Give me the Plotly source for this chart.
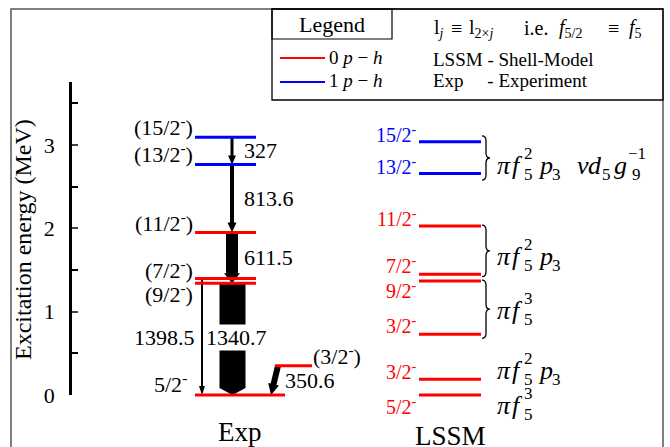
import plotly.graph_objects as go
import math

# ---------------- data ----------------
exp_labels = ["5/2<sup>-</sup>", "(3/2<sup>-</sup>)", "(9/2<sup>-</sup>)", "(7/2<sup>-</sup>)",
              "(11/2<sup>-</sup>)", "(13/2<sup>-</sup>)", "(15/2<sup>-</sup>)"]
exp_energy_keV = [0.0, 350.6, 1340.7, 1398.5, 1952.2, 2765.8, 3092.8]
exp_ph = [0, 0, 0, 0, 0, 1, 1]

gamma_keV = [327, 813.6, 611.5, 1340.7, 1398.5, 350.6]
gamma_labels = ["327", "813.6", "611.5", "1340.7", "1398.5", "350.6"]
gamma_from = [6, 5, 4, 2, 3, 1]
gamma_to = [5, 4, 2, 0, 0, 0]

lssm_labels = ["5/2<sup>-</sup>", "3/2<sup>-</sup>", "3/2<sup>-</sup>", "9/2<sup>-</sup>",
               "7/2<sup>-</sup>", "11/2<sup>-</sup>", "13/2<sup>-</sup>", "15/2<sup>-</sup>"]
lssm_energy_MeV = [0.0, 0.19, 0.73, 1.37, 1.45, 2.03, 2.66, 3.04]
lssm_ph = [0, 0, 0, 0, 0, 0, 1, 1]

# configurations: tokens (text, kind) with kind m=main, sup, sub
cfg_f2p = [("π", "m"), ("f", "m"), ("2", "sup"), ("5", "sub"), ("p", "m"), ("3", "sub")]
cfg_f3 = [("π", "m"), ("f", "m"), ("3", "sup"), ("5", "sub")]
cfg_f2p_nu = cfg_f2p + [("ν", "m"), ("d", "m"), ("5", "sub"), ("g", "m"), ("−1", "sup"), ("9", "sub")]
configs = [cfg_f2p_nu, cfg_f2p, cfg_f3, cfg_f2p, cfg_f3]

notation_tokens = ["l<sub><i>j</i></sub>", "≡", "l<sub>2×<i>j</i></sub>", "i.e.",
                   "<i>f</i><sub>5/2</sub>", "≡", "<i>f</i><sub>5</sub>"]

y_ticks = [0, 1, 2, 3]

# ---------------- layout geometry ----------------
W, H = 670, 447
SCALE = 83.3      # px per MeV
Y0 = 395          # pixel row of 0 MeV
AX_TOP = 82
FONT = "Liberation Serif"
ph_color = ["#ff0000", "#0000ff"]

def pxy(py):
    """pixel row -> MeV (data coords of main y axis)"""
    return (Y0 - py) / SCALE

def pap(py):
    return 1 - py / H

exp_E = [e / 1000 for e in exp_energy_keV]

fig = go.Figure()
fig.add_trace(go.Scatter(x=[0], y=[0], mode="markers", marker=dict(opacity=0), showlegend=False,
                         hoverinfo="skip", xaxis="x", yaxis="y"))
fig.add_trace(go.Scatter(x=[0], y=[0], mode="markers", marker=dict(opacity=0), showlegend=False,
                         hoverinfo="skip", xaxis="x", yaxis="y2"))

shapes = []
ann = []

def ptext(x, py, text, size, anchor="left", **kw):
    ann.append(dict(x=x, y=pap(py), xref="x", yref="paper", text=text, showarrow=False,
                    xanchor=anchor, yanchor="middle",
                    font=dict(size=size, family=FONT, color=kw.pop("color", "black")), **kw))

# outer frame
shapes.append(dict(type="path", xref="x", yref="paper",
                   path=f"M 11,{pap(460)} L 11,{pap(9)} L 663,{pap(9)} L 663,{pap(460)}",
                   line=dict(color="#555555", width=1.5)))
# legend box
shapes.append(dict(type="rect", xref="x", yref="paper", x0=272, x1=663, y0=pap(100), y1=pap(9),
                   line=dict(color="black", width=1.3)))
shapes.append(dict(type="rect", xref="x", yref="paper", x0=272, x1=392, y0=pap(39), y1=pap(9),
                   line=dict(color="black", width=1.2)))
ptext(332, 24, "Legend", 22, anchor="center")
for i, (py, lab) in enumerate([(58, "0 <i>p</i> − <i>h</i>"), (82, "1 <i>p</i> − <i>h</i>")]):
    shapes.append(dict(type="line", xref="x", yref="paper", x0=280, x1=325, y0=pap(py), y1=pap(py),
                       line=dict(color=ph_color[i], width=2)))
    ptext(327, py - 1, lab, 19)
notation_x = [432, 449, 467, 522, 557, 606, 627]
for tx, tok in zip(notation_x, notation_tokens):
    ptext(tx, 28, tok, 20)
ptext(431, 59, "LSSM - Shell-Model", 19)
ptext(431, 81, "Exp\u00a0\u00a0\u00a0\u00a0 - Experiment", 19)

# y-axis title
ann.append(dict(x=23, y=pap(240), xref="x", yref="paper", text="Excitation energy (MeV)",
                textangle=-90, showarrow=False, xanchor="center", yanchor="middle",
                font=dict(size=24, family=FONT, color="black")))

# ---------------- Exp levels ----------------
exp_x = {i: (195, 256) for i in range(len(exp_E))}
exp_x[0] = (195, 285)
exp_x[1] = (275, 312)
for i, e in enumerate(exp_E):
    x0, x1 = exp_x[i]
    shapes.append(dict(type="line", xref="x", yref="y", x0=x0, x1=x1, y0=e, y1=e,
                       line=dict(color=ph_color[exp_ph[i]], width=3)))

exp_lab_dy = [12, 11, -10, 10, 10, 12, 11]      # px above level (neg = below)
for i, e in enumerate(exp_E):
    if i == 1:
        xr, anc = 311, "left"
    else:
        xr, anc = (189 if i == 0 else 195), "right"
    ann.append(dict(x=xr, y=e + exp_lab_dy[i] / SCALE, xref="x", yref="y", text=exp_labels[i],
                    showarrow=False, xanchor=anc, yanchor="middle",
                    font=dict(size=22, family=FONT, color="black")))

# gamma arrows (x_top, x_bottom, shaft width, head width, head length) in px
g_geom = [(232, 232, 3, 8, 9),
          (232, 232, 4, 9, 10),
          (232, 232, 12, 16, 10),
          (232.5, 232.5, 26, 26, 7),
          (202, 202, 2, 6, 9),
          (278, 271, 6, 11, 11)]

for k in range(len(gamma_keV)):
    yt = exp_E[gamma_from[k]]
    yb = exp_E[gamma_to[k]]
    xt, xb, sw, hw, hl = g_geom[k]
    pt = (xt, Y0 - yt * SCALE)
    pb = (xb, Y0 - yb * SCALE)
    dx, dy = pb[0] - pt[0], pb[1] - pt[1]
    L = math.hypot(dx, dy)
    ux, uy = dx / L, dy / L
    nx, ny = -uy, ux
    hx, hy = pb[0] - ux * hl, pb[1] - uy * hl
    pts = [(pt[0] + nx * sw / 2, pt[1] + ny * sw / 2),
           (hx + nx * sw / 2, hy + ny * sw / 2),
           (hx + nx * hw / 2, hy + ny * hw / 2),
           pb,
           (hx - nx * hw / 2, hy - ny * hw / 2),
           (hx - nx * sw / 2, hy - ny * sw / 2),
           (pt[0] - nx * sw / 2, pt[1] - ny * sw / 2)]
    path = "M " + " L ".join(f"{x:.2f},{pxy(y):.5f}" for x, y in pts) + " Z"
    shapes.append(dict(type="path", xref="x", yref="y", path=path, layer="below",
                       fillcolor="black", line=dict(color="black", width=0)))

g_lab = [(242, 150, "left"), (242, 198, "left"), (242, 257, "left"),
         (205, 337, "left"), (197, 337, "right"), (283, 380, "left")]
for k, (gx, gy, anc) in enumerate(g_lab):
    extra = {}
    if gamma_labels[k] == "1340.7":
        extra = dict(bgcolor="white", borderpad=0)
    ann.append(dict(x=gx, y=pxy(gy), xref="x", yref="y", text=gamma_labels[k], showarrow=False,
                    xanchor=anc, yanchor="middle",
                    font=dict(size=22, family=FONT, color="black"), **extra))

# ---------------- LSSM levels ----------------
lssm_lab_dy = [-11, 8, 9, -9, 9, 8, 7, 8]
for i, e in enumerate(lssm_energy_MeV):
    shapes.append(dict(type="line", xref="x", yref="y", x0=419, x1=481, y0=e, y1=e,
                       line=dict(color=ph_color[lssm_ph[i]], width=3)))
    ann.append(dict(x=419, y=e + lssm_lab_dy[i] / SCALE, xref="x", yref="y", text=lssm_labels[i],
                    showarrow=False, xanchor="right", yanchor="middle",
                    font=dict(size=20, family=FONT, color=ph_color[lssm_ph[i]])))

def brace(x, t_px, b_px, w=8):
    m = (t_px + b_px) / 2
    r = 5
    xm = x + w / 2
    p = [("M", [(x, t_px)]),
         ("Q", [(xm, t_px), (xm, t_px + r)]),
         ("L", [(xm, m - r)]),
         ("Q", [(xm, m), (x + w, m)]),
         ("Q", [(xm, m), (xm, m + r)]),
         ("L", [(xm, b_px - r)]),
         ("Q", [(xm, b_px), (x, b_px)])]
    s = ""
    for cmd, pts in p:
        s += cmd + " " + " ".join(f"{px:.2f},{pxy(py):.5f}" for px, py in pts) + " "
    return s

E = lssm_energy_MeV
brace_spans = [(E[7] + 0.07, E[6] - 0.08), (E[5] + 0.01, E[4] - 0.03), (E[3] + 0.01, E[2] - 0.05)]
for top, bot in brace_spans:
    shapes.append(dict(type="path", xref="x", yref="y",
                       path=brace(482, Y0 - top * SCALE, Y0 - bot * SCALE),
                       line=dict(color="black", width=1.3)))

# configuration labels: x offsets (px) of each token relative to start
tok_dx = [0, 15, 27, 27, 41, 55, 80, 91, 105, 117, 131, 135]
kind_dy = {"m": -2, "sup": -14, "sub": 7}
kind_size = {"m": 26, "sup": 17, "sub": 17}
config_pi_py = [167, 258, 312, 372, 407]
for cfg, py in zip(configs, config_pi_py):
    for j, (t, kind) in enumerate(cfg):
        txt = f"<i>{t}</i>" if kind == "m" else t
        ann.append(dict(x=495 + tok_dx[j], y=pxy(py + kind_dy[kind]), xref="x", yref="y",
                        text=txt, showarrow=False, xanchor="left", yanchor="middle",
                        font=dict(size=kind_size[kind], family=FONT, color="black")))

# bottom labels
ann.append(dict(x=240, y=pxy(432), xref="x", yref="y", text="Exp", showarrow=False,
                yanchor="middle", font=dict(size=27, family=FONT, color="black")))
ann.append(dict(x=450, y=pxy(436), xref="x", yref="y", text="LSSM", showarrow=False,
                yanchor="middle", font=dict(size=27, family=FONT, color="black")))

fig.update_layout(
    width=W, height=H, margin=dict(l=0, r=0, t=0, b=0, pad=0, autoexpand=False),
    paper_bgcolor="white", plot_bgcolor="rgba(0,0,0,0)", showlegend=False,
    xaxis=dict(range=[0, W], domain=[0, 1], visible=False, fixedrange=True, automargin=False),
    yaxis=dict(range=[pxy(H), pxy(0)], domain=[0, 1], visible=False, fixedrange=True, automargin=False),
    yaxis2=dict(anchor="free", position=70 / W, automargin=False, fixedrange=True,
                domain=[pap(Y0), pap(AX_TOP)], range=[0, pxy(AX_TOP)],
                tickvals=y_ticks, ticks="inside", ticklen=6, tickwidth=2,
                showline=True, linewidth=2.5, linecolor="black", showgrid=False, zeroline=False,
                ticklabelstandoff=10,
                tickfont=dict(size=22, family=FONT, color="black"),
                minor=dict(dtick=0.5, ticks="inside", ticklen=6, tickwidth=2, tickcolor="black",
                           showgrid=False)),
    shapes=shapes, annotations=ann,
)

fig.write_html("out.html", config={"displayModeBar": False},
               post_script="document.body.style.margin='0';document.body.style.overflow='hidden';")
